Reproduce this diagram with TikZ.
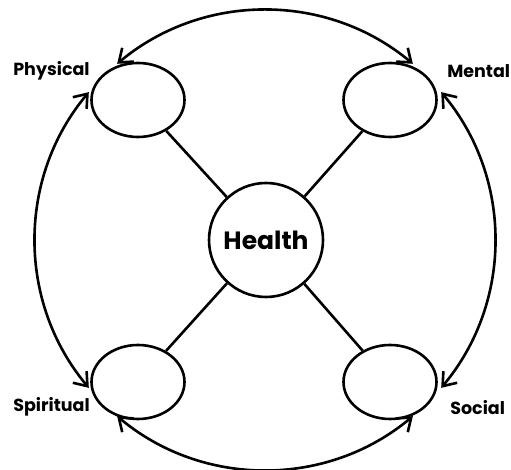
\documentclass[tikz,border=0pt]{standalone}
\usepackage{fontspec}
\setmainfont{Poppins}
\usetikzlibrary{arrows.meta, shapes.geometric}

\begin{document}
\begin{tikzpicture}[x = 1pt, y = 1pt, line width = 2.6pt,
                        aspect/.style = {ellipse, draw, minimum width = 93pt, minimum height = 74pt, inner sep = 0pt},
                        core/.style = {circle, draw, minimum size = 114pt, inner sep = 0pt, font = \fontsize{25}{28}\selectfont\bfseries},
                        tag/.style = {font = \fontsize{17.5}{20}\selectfont\bfseries, inner sep = 0pt, anchor = west},
                        cycle/.style = {{Straight Barb[length = 12pt, width = 18pt]}-{Straight Barb[length = 12pt, width = 18pt]}}]
    \useasboundingbox (0, 0) rectangle (511, 470);
    \coordinate (hub) at (265, 230);
    \node [core] (health) at (266, 230){Health};
    \node [aspect] (physical) at (138, 370){};
    \node [aspect] (mental) at (390, 370){};
    \node [aspect] (spiritual) at (138, 88){};
    \node [aspect] (social) at (390, 88){};
    \node [tag] at (12, 399){Physical};
    \node [tag] at (446, 399){Mental};
    \node [tag] at (12, 63){Spiritual};
    \node [tag] at (449, 62){Social};
    \draw (health)--(physical);
    \draw (health)--(mental);
    \draw (health)--(spiritual);
    \draw (health)--(social);
    \draw [cycle] ([shift = {(50:230)}]hub) arc [start angle = 50, end angle = 130, radius = 230];
    \draw [cycle] ([shift = {(140:230)}]hub) arc [start angle = 140, end angle = 220, radius = 230];
    \draw [cycle] ([shift = {(230:230)}]hub) arc [start angle = 230, end angle = 310, radius = 230];
    \draw [cycle] ([shift = {(320:230)}]hub) arc [start angle = 320, end angle = 400, radius = 230];
  \end{tikzpicture}
\end{document}
